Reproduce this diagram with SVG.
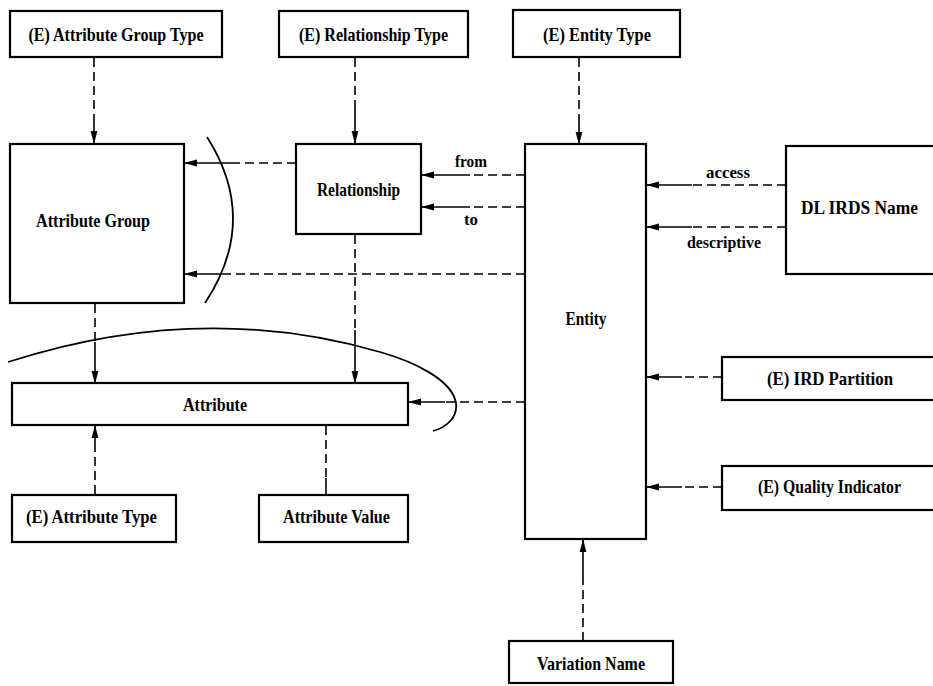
<svg xmlns="http://www.w3.org/2000/svg" width="933" height="686" viewBox="0 0 933 686">
<defs>
<marker id="ah" markerUnits="userSpaceOnUse" markerWidth="14" markerHeight="10" refX="12" refY="4" orient="auto">
<path d="M0,0.6 L13,4 L0,7.4 Z" fill="#000"/>
</marker>
<style>
rect.n{fill:#fff;stroke:#000;stroke-width:2.2}
text{font-family:"Liberation Serif","Times New Roman",serif;font-weight:bold;font-size:19px;fill:#000;text-anchor:middle}
text.s{font-size:17px}
.d{fill:none;stroke:#000;stroke-width:1.6;stroke-dasharray:9 5}
.l{fill:none;stroke:#000;stroke-width:1.6}
.a{marker-end:url(#ah)}
.arc{fill:none;stroke:#000;stroke-width:1.8}
</style>
</defs>
<rect width="933" height="686" fill="#fff"/>

<g id="connectors">
<path class="d" d="M94,58 V118"/><path class="l a" d="M94,118 V143"/>
<path class="d" d="M355,58 V102"/><path class="l a" d="M355,102 V143"/>
<path class="d" d="M579,58 V115"/><path class="l a" d="M579,115 V144"/>
<path class="d" d="M296,163 H240"/><path class="l a" d="M240,163 H185"/>
<path class="d" d="M525,175 H470"/><path class="l a" d="M470,175 H422"/>
<path class="d" d="M525,207 H470"/><path class="l a" d="M470,207 H422"/>
<path class="d" d="M525,274 H222"/><path class="l a" d="M222,274 H185"/>
<path class="d" d="M95,304 V342"/><path class="l a" d="M95,342 V383"/>
<path class="d" d="M355,235 V330"/><path class="l a" d="M355,330 V383"/>
<path class="d" d="M525,402 H445"/><path class="l a" d="M445,402 H409"/>
<path class="d" d="M95,494 V452"/><path class="l a" d="M95,452 V426"/>
<path class="d" d="M326,426 V478"/><path class="l" d="M326,478 V495"/>
<path class="d" d="M786,185 H692"/><path class="l a" d="M692,185 H647"/>
<path class="d" d="M786,227 H692"/><path class="l a" d="M692,227 H647"/>
<path class="d" d="M722,377 H682"/><path class="l a" d="M682,377 H647"/>
<path class="d" d="M722,487 H682"/><path class="l a" d="M682,487 H647"/>
<path class="d" d="M583,641 V578"/><path class="l a" d="M583,578 V540"/>
<text class="s" x="471" y="167" textLength="32" lengthAdjust="spacingAndGlyphs">from</text>
<text class="s" x="471" y="225" textLength="14" lengthAdjust="spacingAndGlyphs">to</text>
<text class="s" x="728" y="178" textLength="44" lengthAdjust="spacingAndGlyphs">access</text>
<text class="s" x="724" y="248" textLength="74" lengthAdjust="spacingAndGlyphs">descriptive</text>
</g>

<path class="arc" d="M207,137 Q260,220 205,303"/>
<path class="arc" d="M8,362 Q200,300 380,352 C415,362 452,380 456,403 C458,418 445,428 433,431"/>

<g id="attribute-group-type"><rect class="n" x="10" y="11" width="212" height="46"/><text x="116" y="41" textLength="175" lengthAdjust="spacingAndGlyphs">(E) Attribute Group Type</text></g>
<g id="relationship-type"><rect class="n" x="279" y="11" width="189" height="46"/><text x="373.5" y="41" textLength="149" lengthAdjust="spacingAndGlyphs">(E) Relationship Type</text></g>
<g id="entity-type"><rect class="n" x="513" y="10" width="167" height="47"/><text x="597" y="41" textLength="108" lengthAdjust="spacingAndGlyphs">(E) Entity Type</text></g>
<g id="attribute-group"><rect class="n" x="10" y="144" width="174" height="159"/><text x="93" y="227" textLength="114" lengthAdjust="spacingAndGlyphs">Attribute Group</text></g>
<g id="relationship"><rect class="n" x="296" y="144" width="125" height="90"/><text x="358.5" y="196" textLength="83" lengthAdjust="spacingAndGlyphs">Relationship</text></g>
<g id="entity"><rect class="n" x="525" y="144" width="121" height="395"/><text x="586" y="325" textLength="41" lengthAdjust="spacingAndGlyphs">Entity</text></g>
<g id="dl-irds-name"><rect class="n" x="786" y="146" width="160" height="128"/><text x="859.5" y="214" textLength="117" lengthAdjust="spacingAndGlyphs">DL IRDS Name</text></g>
<g id="attribute"><rect class="n" x="12" y="383" width="396" height="42"/><text x="215" y="411" textLength="64" lengthAdjust="spacingAndGlyphs">Attribute</text></g>
<g id="ird-partition"><rect class="n" x="722" y="357" width="224" height="43"/><text x="830" y="385" textLength="126" lengthAdjust="spacingAndGlyphs">(E) IRD Partition</text></g>
<g id="quality-indicator"><rect class="n" x="722" y="466" width="224" height="44"/><text x="829.5" y="493" textLength="143" lengthAdjust="spacingAndGlyphs">(E) Quality Indicator</text></g>
<g id="attribute-type"><rect class="n" x="12" y="495" width="164" height="47"/><text x="91.5" y="523" textLength="131" lengthAdjust="spacingAndGlyphs">(E) Attribute Type</text></g>
<g id="attribute-value"><rect class="n" x="259" y="495" width="149" height="47"/><text x="336.5" y="523" textLength="107" lengthAdjust="spacingAndGlyphs">Attribute Value</text></g>
<g id="variation-name"><rect class="n" x="509" y="641" width="164" height="42"/><text x="591" y="670" textLength="108" lengthAdjust="spacingAndGlyphs">Variation Name</text></g>
</svg>
